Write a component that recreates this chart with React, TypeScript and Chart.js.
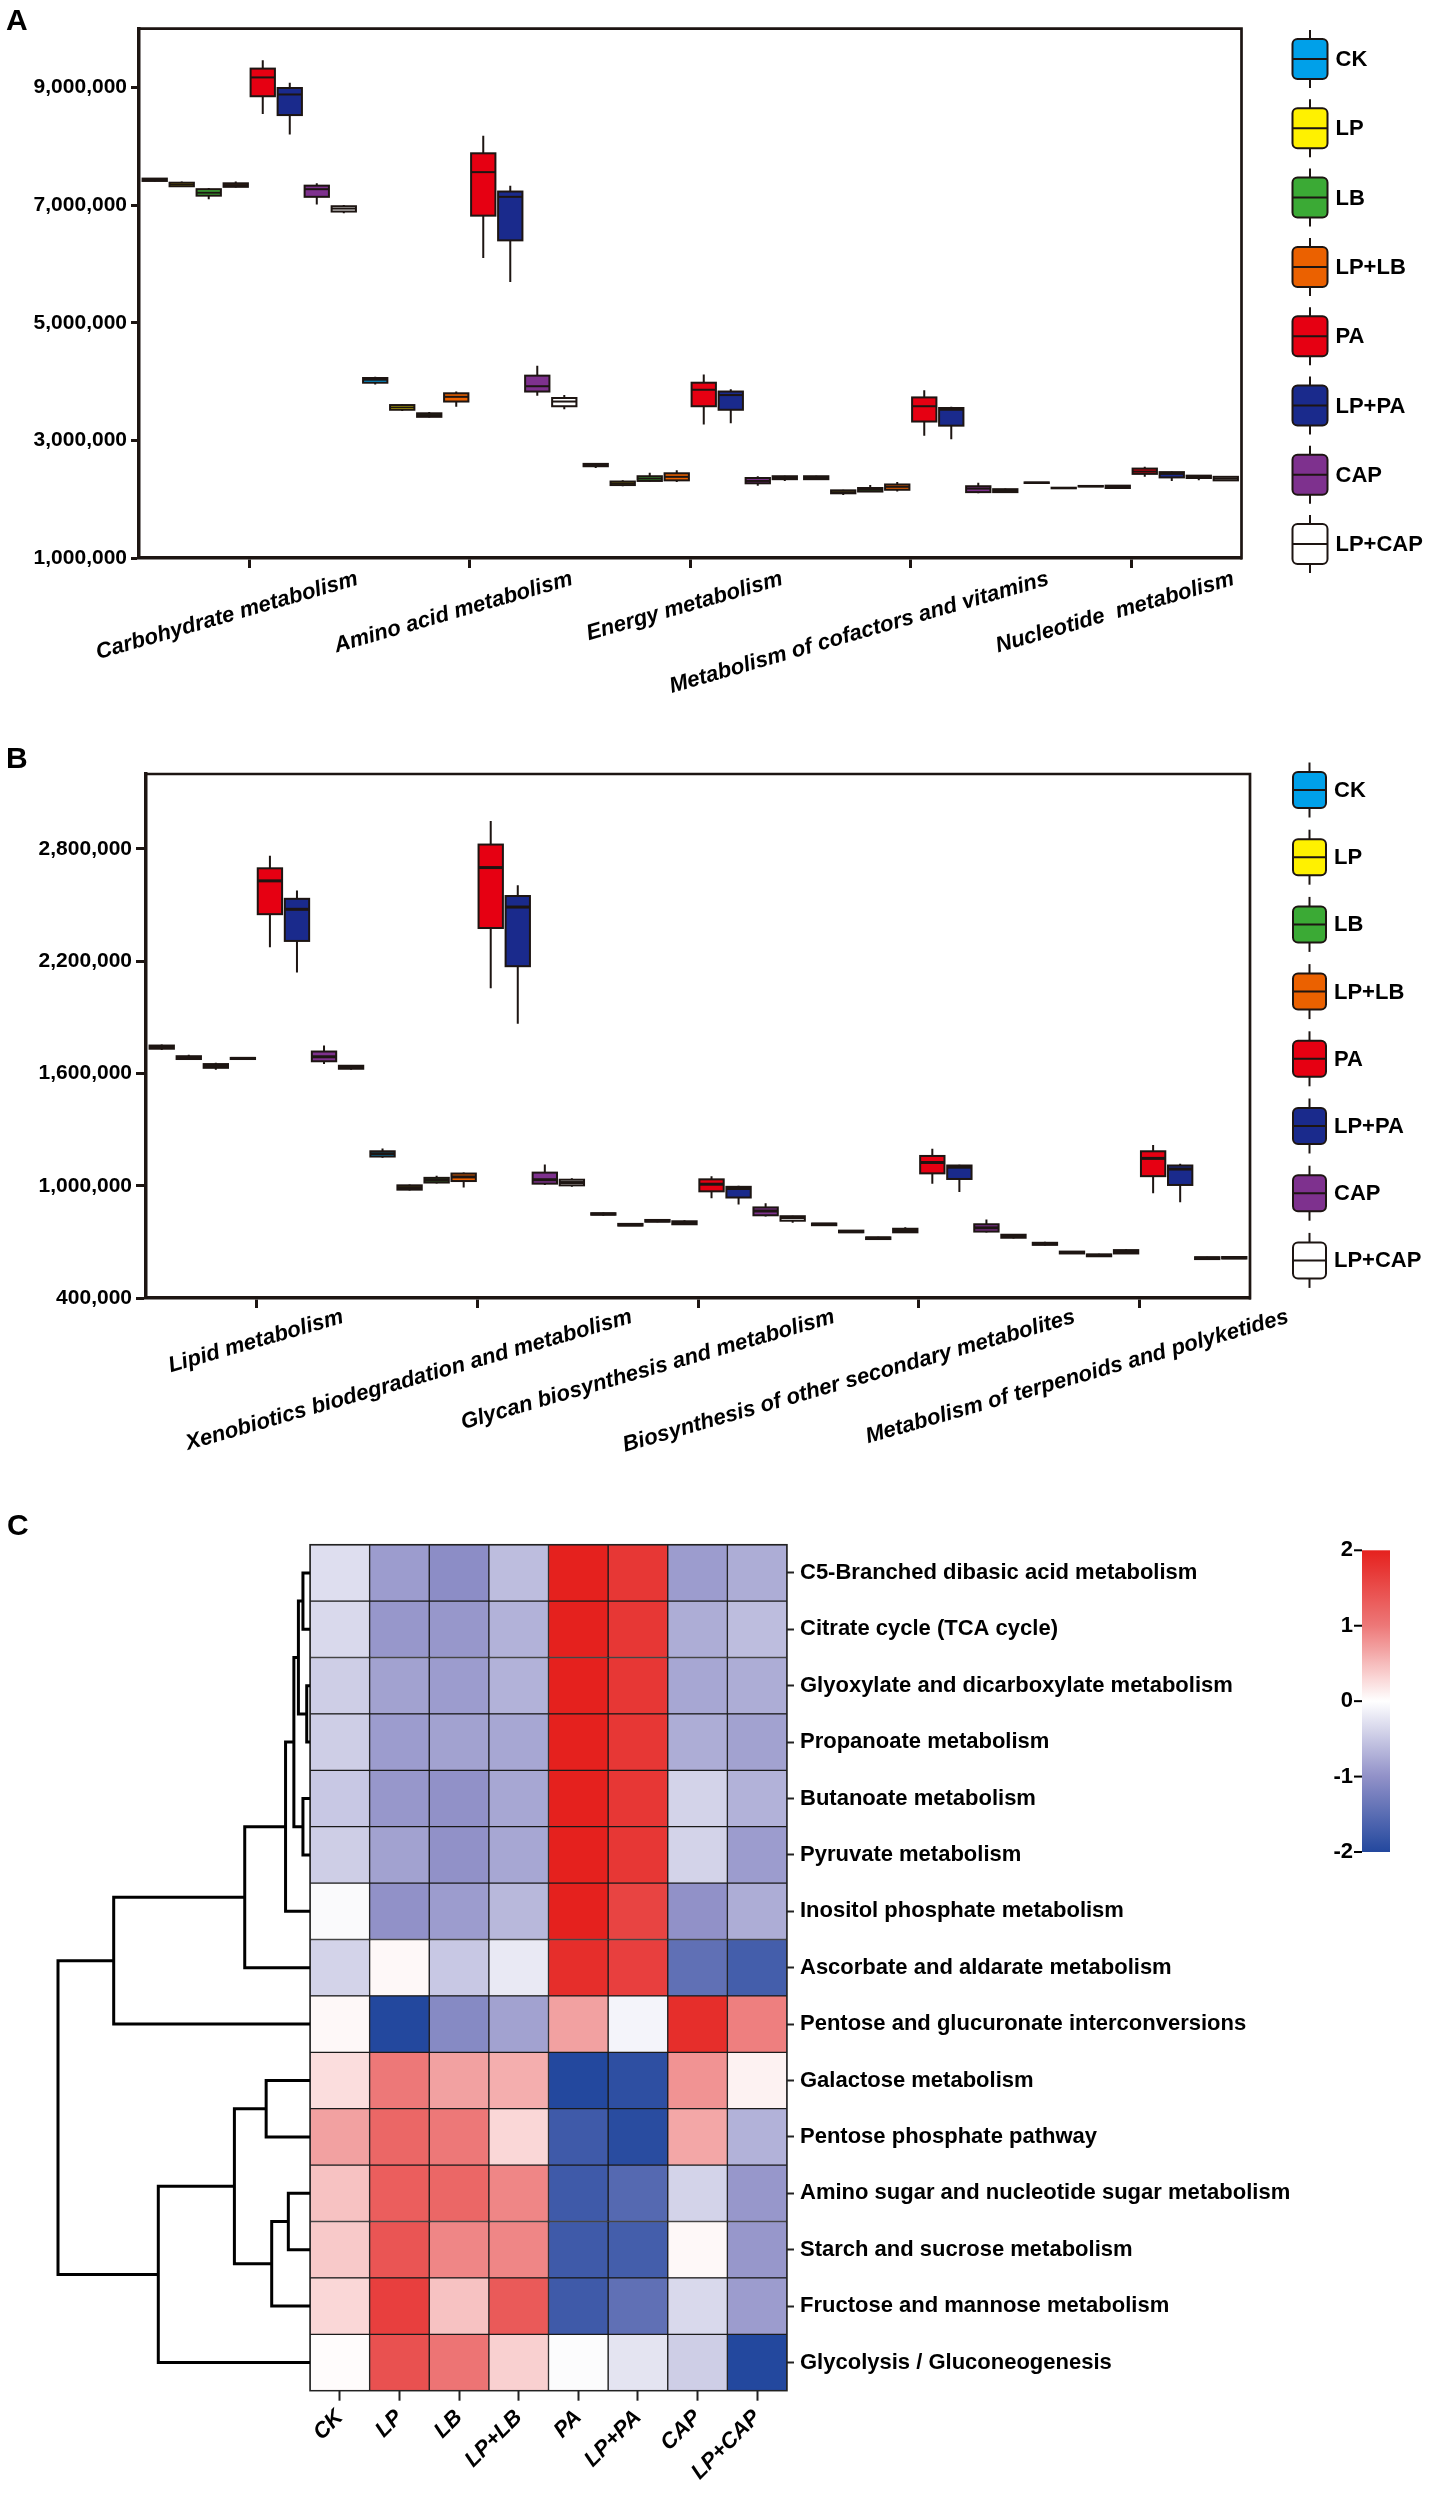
import React, { useEffect, useRef } from "react";
import { Chart, registerables } from "chart.js";

Chart.register(...registerables);

const FONT = "'Liberation Sans', Arial, Helvetica, sans-serif";
Chart.defaults.font.family = FONT;
Chart.defaults.color = "#000";

const INK = "#1d1512";

// ---------- shared groups ----------
const groups = ["CK", "LP", "LB", "LP+LB", "PA", "LP+PA", "CAP", "LP+CAP"];
const groupColors = ["#00A0E9", "#FFF100", "#3BAA35", "#EB6100", "#E60012", "#1A2A8C", "#7E318E", "#FFFFFF"];

// ---------- panel A ----------
const categoriesA = [
  "Carbohydrate metabolism",
  "Amino acid metabolism",
  "Energy metabolism",
  "Metabolism of cofactors and vitamins",
  "Nucleotide  metabolism",
];
const yTicksA = [1e6, 3e6, 5e6, 7e6, 9e6];
// each entry: [min, Q1, median, Q3, max]
const A_CK = [[7.40e6, 7.41e6, 7.43e6, 7.45e6, 7.46e6], [3.95e6, 3.98e6, 4.03e6, 4.06e6, 4.08e6], [2.53e6, 2.56e6, 2.58e6, 2.60e6, 2.61e6], [2.33e6, 2.34e6, 2.36e6, 2.39e6, 2.40e6], [2.27e6, 2.275e6, 2.28e6, 2.285e6, 2.29e6]];
const A_LP = [[7.31e6, 7.32e6, 7.35e6, 7.38e6, 7.40e6], [3.50e6, 3.52e6, 3.56e6, 3.60e6, 3.61e6], [2.22e6, 2.24e6, 2.27e6, 2.30e6, 2.32e6], [2.07e6, 2.10e6, 2.12e6, 2.15e6, 2.16e6], [2.18e6, 2.185e6, 2.19e6, 2.195e6, 2.20e6]];
const A_LB = [[7.10e6, 7.16e6, 7.21e6, 7.27e6, 7.29e6], [3.39e6, 3.40e6, 3.43e6, 3.46e6, 3.48e6], [2.30e6, 2.31e6, 2.35e6, 2.39e6, 2.45e6], [2.12e6, 2.13e6, 2.16e6, 2.19e6, 2.24e6], [2.21e6, 2.215e6, 2.22e6, 2.225e6, 2.23e6]];
const A_LPLB = [[7.30e6, 7.31e6, 7.34e6, 7.37e6, 7.40e6], [3.57e6, 3.66e6, 3.74e6, 3.80e6, 3.83e6], [2.29e6, 2.32e6, 2.38e6, 2.44e6, 2.49e6], [2.13e6, 2.16e6, 2.21e6, 2.25e6, 2.29e6], [2.18e6, 2.19e6, 2.21e6, 2.23e6, 2.24e6]];
const A_PA = [[8.55e6, 8.85e6, 9.17e6, 9.32e6, 9.46e6], [6.10e6, 6.82e6, 7.56e6, 7.88e6, 8.18e6], [3.27e6, 3.58e6, 3.86e6, 3.98e6, 4.12e6], [3.08e6, 3.32e6, 3.58e6, 3.73e6, 3.85e6], [2.38e6, 2.43e6, 2.47e6, 2.52e6, 2.55e6]];
const A_LPPA = [[8.20e6, 8.53e6, 8.88e6, 8.99e6, 9.08e6], [5.69e6, 6.40e6, 7.14e6, 7.23e6, 7.33e6], [3.29e6, 3.52e6, 3.77e6, 3.83e6, 3.87e6], [3.02e6, 3.25e6, 3.52e6, 3.55e6, 3.57e6], [2.31e6, 2.37e6, 2.43e6, 2.46e6, 2.47e6]];
const A_CAP = [[7.01e6, 7.14e6, 7.27e6, 7.33e6, 7.37e6], [3.76e6, 3.83e6, 3.92e6, 4.10e6, 4.27e6], [2.23e6, 2.27e6, 2.31e6, 2.36e6, 2.39e6], [2.10e6, 2.12e6, 2.18e6, 2.22e6, 2.28e6], [2.32e6, 2.36e6, 2.38e6, 2.40e6, 2.41e6]];
const A_LPCAP = [[6.86e6, 6.89e6, 6.94e6, 6.98e6, 7.00e6], [3.53e6, 3.58e6, 3.66e6, 3.72e6, 3.77e6], [2.31e6, 2.34e6, 2.36e6, 2.39e6, 2.40e6], [2.11e6, 2.12e6, 2.14e6, 2.17e6, 2.18e6], [2.31e6, 2.32e6, 2.35e6, 2.38e6, 2.39e6]];

// ---------- panel B ----------
const categoriesB = [
  "Lipid metabolism",
  "Xenobiotics biodegradation and metabolism",
  "Glycan biosynthesis and metabolism",
  "Biosynthesis of other secondary metabolites",
  "Metabolism of terpenoids and polyketides",
];
const yTicksB = [400000, 1000000, 1600000, 2200000, 2800000];
const B_CK = [[1.725e6, 1.732e6, 1.74e6, 1.749e6, 1.755e6], [1.15e6, 1.156e6, 1.171e6, 1.184e6, 1.199e6], [0.84e6, 0.845e6, 0.849e6, 0.853e6, 0.857e6], [0.785e6, 0.789e6, 0.794e6, 0.798e6, 0.80e6], [0.68e6, 0.684e6, 0.69e6, 0.695e6, 0.70e6]];
const B_LP = [[1.672e6, 1.677e6, 1.685e6, 1.692e6, 1.70e6], [0.975e6, 0.979e6, 0.99e6, 1.002e6, 1.006e6], [0.785e6, 0.787e6, 0.791e6, 0.796e6, 0.80e6], [0.748e6, 0.751e6, 0.755e6, 0.76e6, 0.763e6], [0.635e6, 0.638e6, 0.643e6, 0.648e6, 0.65e6]];
const B_LB = [[1.62e6, 1.63e6, 1.64e6, 1.65e6, 1.657e6], [1.012e6, 1.017e6, 1.03e6, 1.042e6, 1.053e6], [0.805e6, 0.808e6, 0.812e6, 0.817e6, 0.82e6], [0.712e6, 0.715e6, 0.72e6, 0.724e6, 0.727e6], [0.62e6, 0.623e6, 0.628e6, 0.633e6, 0.636e6]];
const B_LPLB = [[1.675e6, 1.677e6, 1.68e6, 1.683e6, 1.686e6], [0.99e6, 1.025e6, 1.047e6, 1.065e6, 1.07e6], [0.79e6, 0.794e6, 0.80e6, 0.81e6, 0.815e6], [0.748e6, 0.751e6, 0.76e6, 0.77e6, 0.778e6], [0.635e6, 0.638e6, 0.647e6, 0.656e6, 0.66e6]];
const B_PA = [[2.274e6, 2.451e6, 2.629e6, 2.696e6, 2.763e6], [2.055e6, 2.377e6, 2.70e6, 2.823e6, 2.949e6], [0.933e6, 0.97e6, 1.008e6, 1.034e6, 1.051e6], [1.011e6, 1.066e6, 1.124e6, 1.159e6, 1.198e6], [0.96e6, 1.051e6, 1.146e6, 1.184e6, 1.218e6]];
const B_LPPA = [[2.139e6, 2.308e6, 2.477e6, 2.533e6, 2.578e6], [1.865e6, 2.173e6, 2.489e6, 2.548e6, 2.605e6], [0.899e6, 0.937e6, 0.985e6, 0.994e6, 1.0e6], [0.966e6, 1.036e6, 1.099e6, 1.108e6, 1.112e6], [0.912e6, 1.004e6, 1.089e6, 1.108e6, 1.118e6]];
const B_CAP = [[1.65e6, 1.665e6, 1.689e6, 1.717e6, 1.749e6], [1.004e6, 1.011e6, 1.032e6, 1.07e6, 1.114e6], [0.835e6, 0.842e6, 0.865e6, 0.884e6, 0.906e6], [0.75e6, 0.755e6, 0.775e6, 0.794e6, 0.819e6], [0.605e6, 0.608e6, 0.613e6, 0.618e6, 0.62e6]];
const B_LPCAP = [[1.62e6, 1.625e6, 1.633e6, 1.641e6, 1.645e6], [0.995e6, 1.002e6, 1.017e6, 1.032e6, 1.04e6], [0.802e6, 0.813e6, 0.83e6, 0.837e6, 0.84e6], [0.718e6, 0.722e6, 0.73e6, 0.738e6, 0.742e6], [0.608e6, 0.611e6, 0.615e6, 0.619e6, 0.622e6]];

// ---------- panel C (heatmap, z-scores) ----------
const heatRows = [
  "C5-Branched dibasic acid metabolism",
  "Citrate cycle (TCA cycle)",
  "Glyoxylate and dicarboxylate metabolism",
  "Propanoate metabolism",
  "Butanoate metabolism",
  "Pyruvate metabolism",
  "Inositol phosphate metabolism",
  "Ascorbate and aldarate metabolism",
  "Pentose and glucuronate interconversions",
  "Galactose metabolism",
  "Pentose phosphate pathway",
  "Amino sugar and nucleotide sugar metabolism",
  "Starch and sucrose metabolism",
  "Fructose and mannose metabolism",
  "Glycolysis / Gluconeogenesis",
];
const hmCK = [-0.3, -0.35, -0.45, -0.45, -0.5, -0.45, -0.05, -0.4, 0.05, 0.25, 0.7, 0.45, 0.4, 0.3, 0.02];
const hmLP = [-0.9, -0.95, -0.85, -0.9, -0.95, -0.85, -1.0, 0.05, -2.0, 1.0, 1.2, 1.3, 1.4, 1.65, 1.45];
const hmLB = [-1.05, -0.95, -0.9, -0.85, -1.0, -1.0, -0.9, -0.5, -1.1, 0.7, 1.0, 1.2, 0.9, 0.45, 1.05];
const hmLPLB = [-0.6, -0.7, -0.7, -0.8, -0.8, -0.8, -0.65, -0.2, -0.85, 0.6, 0.3, 0.9, 0.9, 1.35, 0.35];
const hmPA = [2.0, 2.0, 2.0, 2.0, 2.0, 2.0, 2.0, 1.85, 0.7, -2.0, -1.75, -1.75, -1.75, -1.75, -0.03];
const hmLPPA = [1.75, 1.75, 1.75, 1.75, 1.75, 1.75, 1.6, 1.65, -0.1, -1.9, -1.95, -1.55, -1.7, -1.45, -0.25];
const hmCAP = [-0.9, -0.75, -0.8, -0.75, -0.4, -0.4, -1.0, -1.45, 1.85, 0.8, 0.65, -0.4, 0.05, -0.35, -0.45];
const hmLPCAP = [-0.75, -0.6, -0.75, -0.85, -0.7, -0.9, -0.75, -1.7, 0.95, 0.1, -0.7, -0.95, -0.95, -0.9, -2.0];
const colorbarTicks = [2, 1, 0, -1, -2];

// row dendrogram: [childA, childB, height]; negative = leaf row (1-based), positive = earlier merge (1-based)
const dendroMerges = [
  [-1, -2, 0.28],
  [-3, -4, 0.13],
  [1, 2, 0.46],
  [-5, -6, 0.28],
  [3, 4, 0.64],
  [5, -7, 0.97],
  [6, -8, 2.59],
  [7, -9, 7.79],
  [-10, -11, 1.74],
  [-12, -13, 0.86],
  [10, -14, 1.52],
  [9, 11, 3.0],
  [12, -15, 6.02],
  [8, 13, 10.0],
];

// ---------- helpers ----------
const heatStops: [number, number[]][] = [
  [-2, [35, 72, 158]],
  [-1, [145, 145, 200]],
  [0, [255, 255, 255]],
  [1, [237, 120, 120]],
  [2, [229, 33, 30]],
];
function heatColor(v: number): string {
  const x = Math.max(-2, Math.min(2, v));
  for (let k = 0; k < heatStops.length - 1; k++) {
    const [a, ca] = heatStops[k];
    const [b, cb] = heatStops[k + 1];
    if (x <= b) {
      const t = (x - a) / (b - a);
      const c = ca.map((cv, i) => Math.round(cv + (cb[i] - cv) * t));
      return `rgb(${c[0]},${c[1]},${c[2]})`;
    }
  }
  return "rgb(229,33,30)";
}

const fmt = (v: number) => Number(v).toLocaleString("en-US");

type BoxCfg = {
  categories: string[];
  series: number[][][];
  yMin: number;
  yMax: number;
  yTicks: number[];
  height: number;
  area: { left: number; top: number; right: number; bottom: number };
  yAxisWidth: number;
  tickLen: number;
  legend: { first: number; step: number; boxH: number; whisk: number; gap: number; boxW: number };
  letter: string;
  letterBaseline: number;
  medianWidth: number;
  labelDrop: number;
};

function makeBoxChart(canvas: HTMLCanvasElement, cfg: BoxCfg): Chart {
  const W = 1429;
  const { categories, series, area } = cfg;
  const extras = {
    id: "boxExtras",
    afterDatasetsDraw(chart: any) {
      const ctx = chart.ctx;
      const ys = chart.scales.y;
      series.forEach((ser, i) => {
        const meta = chart.getDatasetMeta(i);
        meta.data.forEach((el: any, j: number) => {
          const [mn, q1, md, q3, mx] = ser[j];
          const { x, width } = el.getProps(["x", "width"], true);
          const pMn = ys.getPixelForValue(mn);
          const pQ1 = ys.getPixelForValue(q1);
          const pMd = ys.getPixelForValue(md);
          const pQ3 = ys.getPixelForValue(q3);
          const pMx = ys.getPixelForValue(mx);
          ctx.save();
          ctx.strokeStyle = INK;
          ctx.lineWidth = 2;
          ctx.beginPath();
          ctx.moveTo(x, pMx);
          ctx.lineTo(x, pQ3);
          ctx.moveTo(x, pQ1);
          ctx.lineTo(x, pMn);
          ctx.stroke();
          ctx.strokeRect(x - width / 2, pQ3, width, pQ1 - pQ3);
          ctx.lineWidth = cfg.medianWidth;
          ctx.beginPath();
          ctx.moveTo(x - width / 2, pMd);
          ctx.lineTo(x + width / 2, pMd);
          ctx.stroke();
          ctx.restore();
        });
      });
    },
    afterDraw(chart: any) {
      const ctx = chart.ctx;
      const ca = chart.chartArea;
      ctx.save();
      // frame top and right
      ctx.strokeStyle = INK;
      ctx.lineWidth = 2.7;
      ctx.beginPath();
      ctx.moveTo(ca.left - 1.5, ca.top);
      ctx.lineTo(ca.right, ca.top);
      ctx.lineTo(ca.right, ca.bottom + 1.5);
      ctx.stroke();

      // x labels (rotated, hanging from the axis near each tick)
      const xs = chart.scales.x;
      const th = (16 * Math.PI) / 180;
      ctx.font = `italic bold 22px ${FONT}`;
      ctx.fillStyle = "#000";
      categories.forEach((c, j) => {
        const px = xs.getPixelForValue(j);
        const L = ctx.measureText(c).width;
        ctx.save();
        ctx.translate(px + 40 + 0.25 * L * Math.cos(th), ca.bottom + cfg.labelDrop);
        ctx.rotate(-th);
        ctx.textAlign = "right";
        ctx.textBaseline = "top";
        ctx.fillText(c, 0, 0);
        ctx.restore();
      });

      // legend
      const lg = cfg.legend;
      const lx = ca.right + lg.gap;
      groups.forEach((g, i) => {
        const cy = ca.top + lg.first + i * lg.step;
        const cx = lx + lg.boxW / 2;
        ctx.strokeStyle = INK;
        ctx.lineWidth = 2;
        ctx.beginPath();
        ctx.moveTo(cx, cy - lg.whisk);
        ctx.lineTo(cx, cy + lg.whisk);
        ctx.stroke();
        ctx.beginPath();
        ctx.roundRect(lx, cy - lg.boxH / 2, lg.boxW, lg.boxH, 5);
        ctx.fillStyle = groupColors[i];
        ctx.fill();
        ctx.stroke();
        ctx.beginPath();
        ctx.moveTo(lx, cy);
        ctx.lineTo(lx + lg.boxW, cy);
        ctx.stroke();
        ctx.fillStyle = "#000";
        ctx.font = `bold 22px ${FONT}`;
        ctx.textAlign = "left";
        ctx.textBaseline = "middle";
        ctx.fillText(g, lx + lg.boxW + 8, cy + 1);
      });

      // panel letter
      ctx.font = `bold 30px ${FONT}`;
      ctx.textAlign = "left";
      ctx.textBaseline = "alphabetic";
      ctx.fillStyle = "#000";
      ctx.fillText(cfg.letter, 6, cfg.letterBaseline);
      ctx.restore();
    },
  };

  return new Chart(canvas, {
    type: "bar",
    data: {
      labels: categories,
      datasets: groups.map((g, i) => ({
        label: g,
        data: series[i].map((s) => [s[1], s[3]]),
        backgroundColor: groupColors[i],
        borderWidth: 0,
        barPercentage: 0.9,
        categoryPercentage: 0.98,
      })),
    } as any,
    options: {
      responsive: false,
      animation: false,
      events: [],
      layout: {
        padding: { left: area.left - cfg.yAxisWidth, right: W - area.right, top: area.top, bottom: 0 },
      },
      plugins: { legend: { display: false }, tooltip: { enabled: false } },
      scales: {
        x: {
          type: "category",
          grid: { display: true, drawOnChartArea: false, offset: false, tickLength: 10, tickWidth: 3, tickColor: INK },
          border: { display: true, width: 3.5, color: INK },
          ticks: { display: false },
          afterFit: (s: any) => {
            s.height = cfg.height - area.bottom;
          },
        },
        y: {
          type: "linear",
          min: cfg.yMin,
          max: cfg.yMax,
          afterBuildTicks: (s: any) => {
            s.ticks = cfg.yTicks.map((v) => ({ value: v }));
          },
          ticks: {
            callback: (v: any) => fmt(v),
            font: { size: 21, weight: "bold" },
            color: "#000",
            padding: 4,
          },
          grid: { drawOnChartArea: false, tickLength: cfg.tickLen, tickWidth: 3, tickColor: INK },
          border: { display: true, width: 3.5, color: INK },
          afterFit: (s: any) => {
            s.width = cfg.yAxisWidth;
          },
        },
      },
    } as any,
    plugins: [extras as any],
  });
}

function makeHeatmap(canvas: HTMLCanvasElement): Chart {
  const W = 1429;
  const H = 1018;
  const columns = [hmCK, hmLP, hmLB, hmLPLB, hmPA, hmLPPA, hmCAP, hmLPCAP];
  const extras = {
    id: "heatExtras",
    afterDraw(chart: any) {
      const ctx = chart.ctx;
      const ca = chart.chartArea;
      const ys = chart.scales.y;
      ctx.save();
      // heatmap outer frame
      ctx.strokeStyle = "#222";
      ctx.lineWidth = 1.5;
      ctx.strokeRect(ca.left, ca.top, ca.right - ca.left, ca.bottom - ca.top);

      // dendrogram
      const dendroWidth = 252;
      const maxH = Math.max(...dendroMerges.map((m) => m[2]));
      const unit = dendroWidth / maxH;
      const nx: number[] = [];
      const ny: number[] = [];
      const pos = (id: number) =>
        id < 0 ? { x: ca.left, y: ys.getPixelForValue(-id - 1) } : { x: nx[id - 1], y: ny[id - 1] };
      ctx.strokeStyle = "#000";
      ctx.lineWidth = 3;
      ctx.lineJoin = "miter";
      dendroMerges.forEach(([a, b, h], k) => {
        const pa = pos(a);
        const pb = pos(b);
        const x = ca.left - h * unit;
        ctx.beginPath();
        ctx.moveTo(pa.x, pa.y);
        ctx.lineTo(x, pa.y);
        ctx.lineTo(x, pb.y);
        ctx.lineTo(pb.x, pb.y);
        ctx.stroke();
        nx[k] = x;
        ny[k] = (pa.y + pb.y) / 2;
      });

      // colour bar
      const cbL = 1362, cbW = 28, cbT = 70.3, cbB = 372;
      const grad = ctx.createLinearGradient(0, cbB, 0, cbT);
      for (let s = 0; s <= 40; s++) {
        grad.addColorStop(s / 40, heatColor(-2 + (4 * s) / 40));
      }
      ctx.fillStyle = grad;
      ctx.fillRect(cbL, cbT, cbW, cbB - cbT);
      ctx.font = `bold 22px ${FONT}`;
      ctx.textAlign = "right";
      ctx.textBaseline = "middle";
      ctx.fillStyle = "#000";
      ctx.strokeStyle = "#000";
      ctx.lineWidth = 2;
      colorbarTicks.forEach((t) => {
        const py = cbB - ((t + 2) / 4) * (cbB - cbT);
        ctx.beginPath();
        ctx.moveTo(cbL - 8, py);
        ctx.lineTo(cbL, py);
        ctx.stroke();
        ctx.fillText(String(t), cbL - 9, py);
      });

      // panel letter
      ctx.font = `bold 30px ${FONT}`;
      ctx.textAlign = "left";
      ctx.textBaseline = "alphabetic";
      ctx.fillText("C", 7, 54.7);
      ctx.restore();
    },
  };

  return new Chart(canvas, {
    type: "bar",
    data: {
      labels: heatRows,
      datasets: groups.map((g, j) => ({
        label: g,
        data: heatRows.map(() => [j, j + 1]),
        backgroundColor: columns[j].map((v) => heatColor(v)),
        borderColor: "#1b1b1b",
        borderWidth: 1,
        borderSkipped: false,
        grouped: false,
        barPercentage: 1,
        categoryPercentage: 1,
        xAxisID: "x",
        yAxisID: "y",
      })),
    } as any,
    options: {
      indexAxis: "y",
      responsive: false,
      animation: false,
      events: [],
      layout: { padding: { left: 310, right: 0, top: 64.7, bottom: 0 } },
      plugins: { legend: { display: false }, tooltip: { enabled: false } },
      scales: {
        x: { type: "linear", min: 0, max: groups.length, display: false },
        xc: {
          type: "category",
          labels: groups,
          position: "bottom",
          offset: true,
          grid: { display: true, drawOnChartArea: false, offset: false, tickLength: 10, tickWidth: 2, tickColor: "#222" },
          border: { display: false },
          ticks: {
            autoSkip: false,
            minRotation: 45,
            maxRotation: 45,
            font: { size: 22, style: "italic", weight: "bold" },
            color: "#000",
            padding: 4,
          },
          afterFit: (s: any) => {
            s.height = H - 910.7;
          },
        },
        y: {
          type: "category",
          position: "right",
          offset: true,
          grid: { display: true, drawOnChartArea: false, offset: false, tickLength: 7, tickWidth: 2, tickColor: "#222" },
          border: { display: false },
          ticks: { autoSkip: false, font: { size: 22, weight: "bold" }, color: "#000", padding: 6 },
          afterFit: (s: any) => {
            s.width = W - 787;
          },
        },
      },
    } as any,
    plugins: [extras as any],
  });
}

export default function App() {
  const refA = useRef<HTMLCanvasElement>(null);
  const refB = useRef<HTMLCanvasElement>(null);
  const refC = useRef<HTMLCanvasElement>(null);

  useEffect(() => {
    const charts: Chart[] = [];
    charts.push(
      makeBoxChart(refA.current!, {
        categories: categoriesA,
        series: [A_CK, A_LP, A_LB, A_LPLB, A_PA, A_LPPA, A_CAP, A_LPCAP],
        yMin: 1e6,
        yMax: 10e6,
        yTicks: yTicksA,
        height: 720,
        area: { left: 139, top: 28.6, right: 1241.5, bottom: 558 },
        yAxisWidth: 129,
        tickLen: 8,
        legend: { first: 30.4, step: 69.3, boxH: 40, whisk: 29, gap: 51, boxW: 35 },
        letter: "A",
        letterBaseline: 30,
        medianWidth: 2,
        labelDrop: 10,
      })
    );
    charts.push(
      makeBoxChart(refB.current!, {
        categories: categoriesB,
        series: [B_CK, B_LP, B_LB, B_LPLB, B_PA, B_LPPA, B_CAP, B_LPCAP],
        yMin: 400000,
        yMax: 3200000,
        yTicks: yTicksB,
        height: 760,
        area: { left: 146, top: 54, right: 1250, bottom: 578 },
        yAxisWidth: 136,
        tickLen: 10,
        legend: { first: 16, step: 67.2, boxH: 36, whisk: 27.5, gap: 43, boxW: 33 },
        letter: "B",
        letterBaseline: 48,
        medianWidth: 3,
        labelDrop: 8,
      })
    );
    charts.push(makeHeatmap(refC.current!));
    return () => charts.forEach((c) => c.destroy());
  }, []);

  return (
    <div style={{ position: "absolute", left: 0, top: 0, width: 1429, height: 2498, background: "#fff", overflow: "hidden" }}>
      <canvas ref={refA} width={1429} height={720} style={{ position: "absolute", left: 0, top: 0 }} />
      <canvas ref={refB} width={1429} height={760} style={{ position: "absolute", left: 0, top: 720 }} />
      <canvas ref={refC} width={1429} height={1018} style={{ position: "absolute", left: 0, top: 1480 }} />
    </div>
  );
}
